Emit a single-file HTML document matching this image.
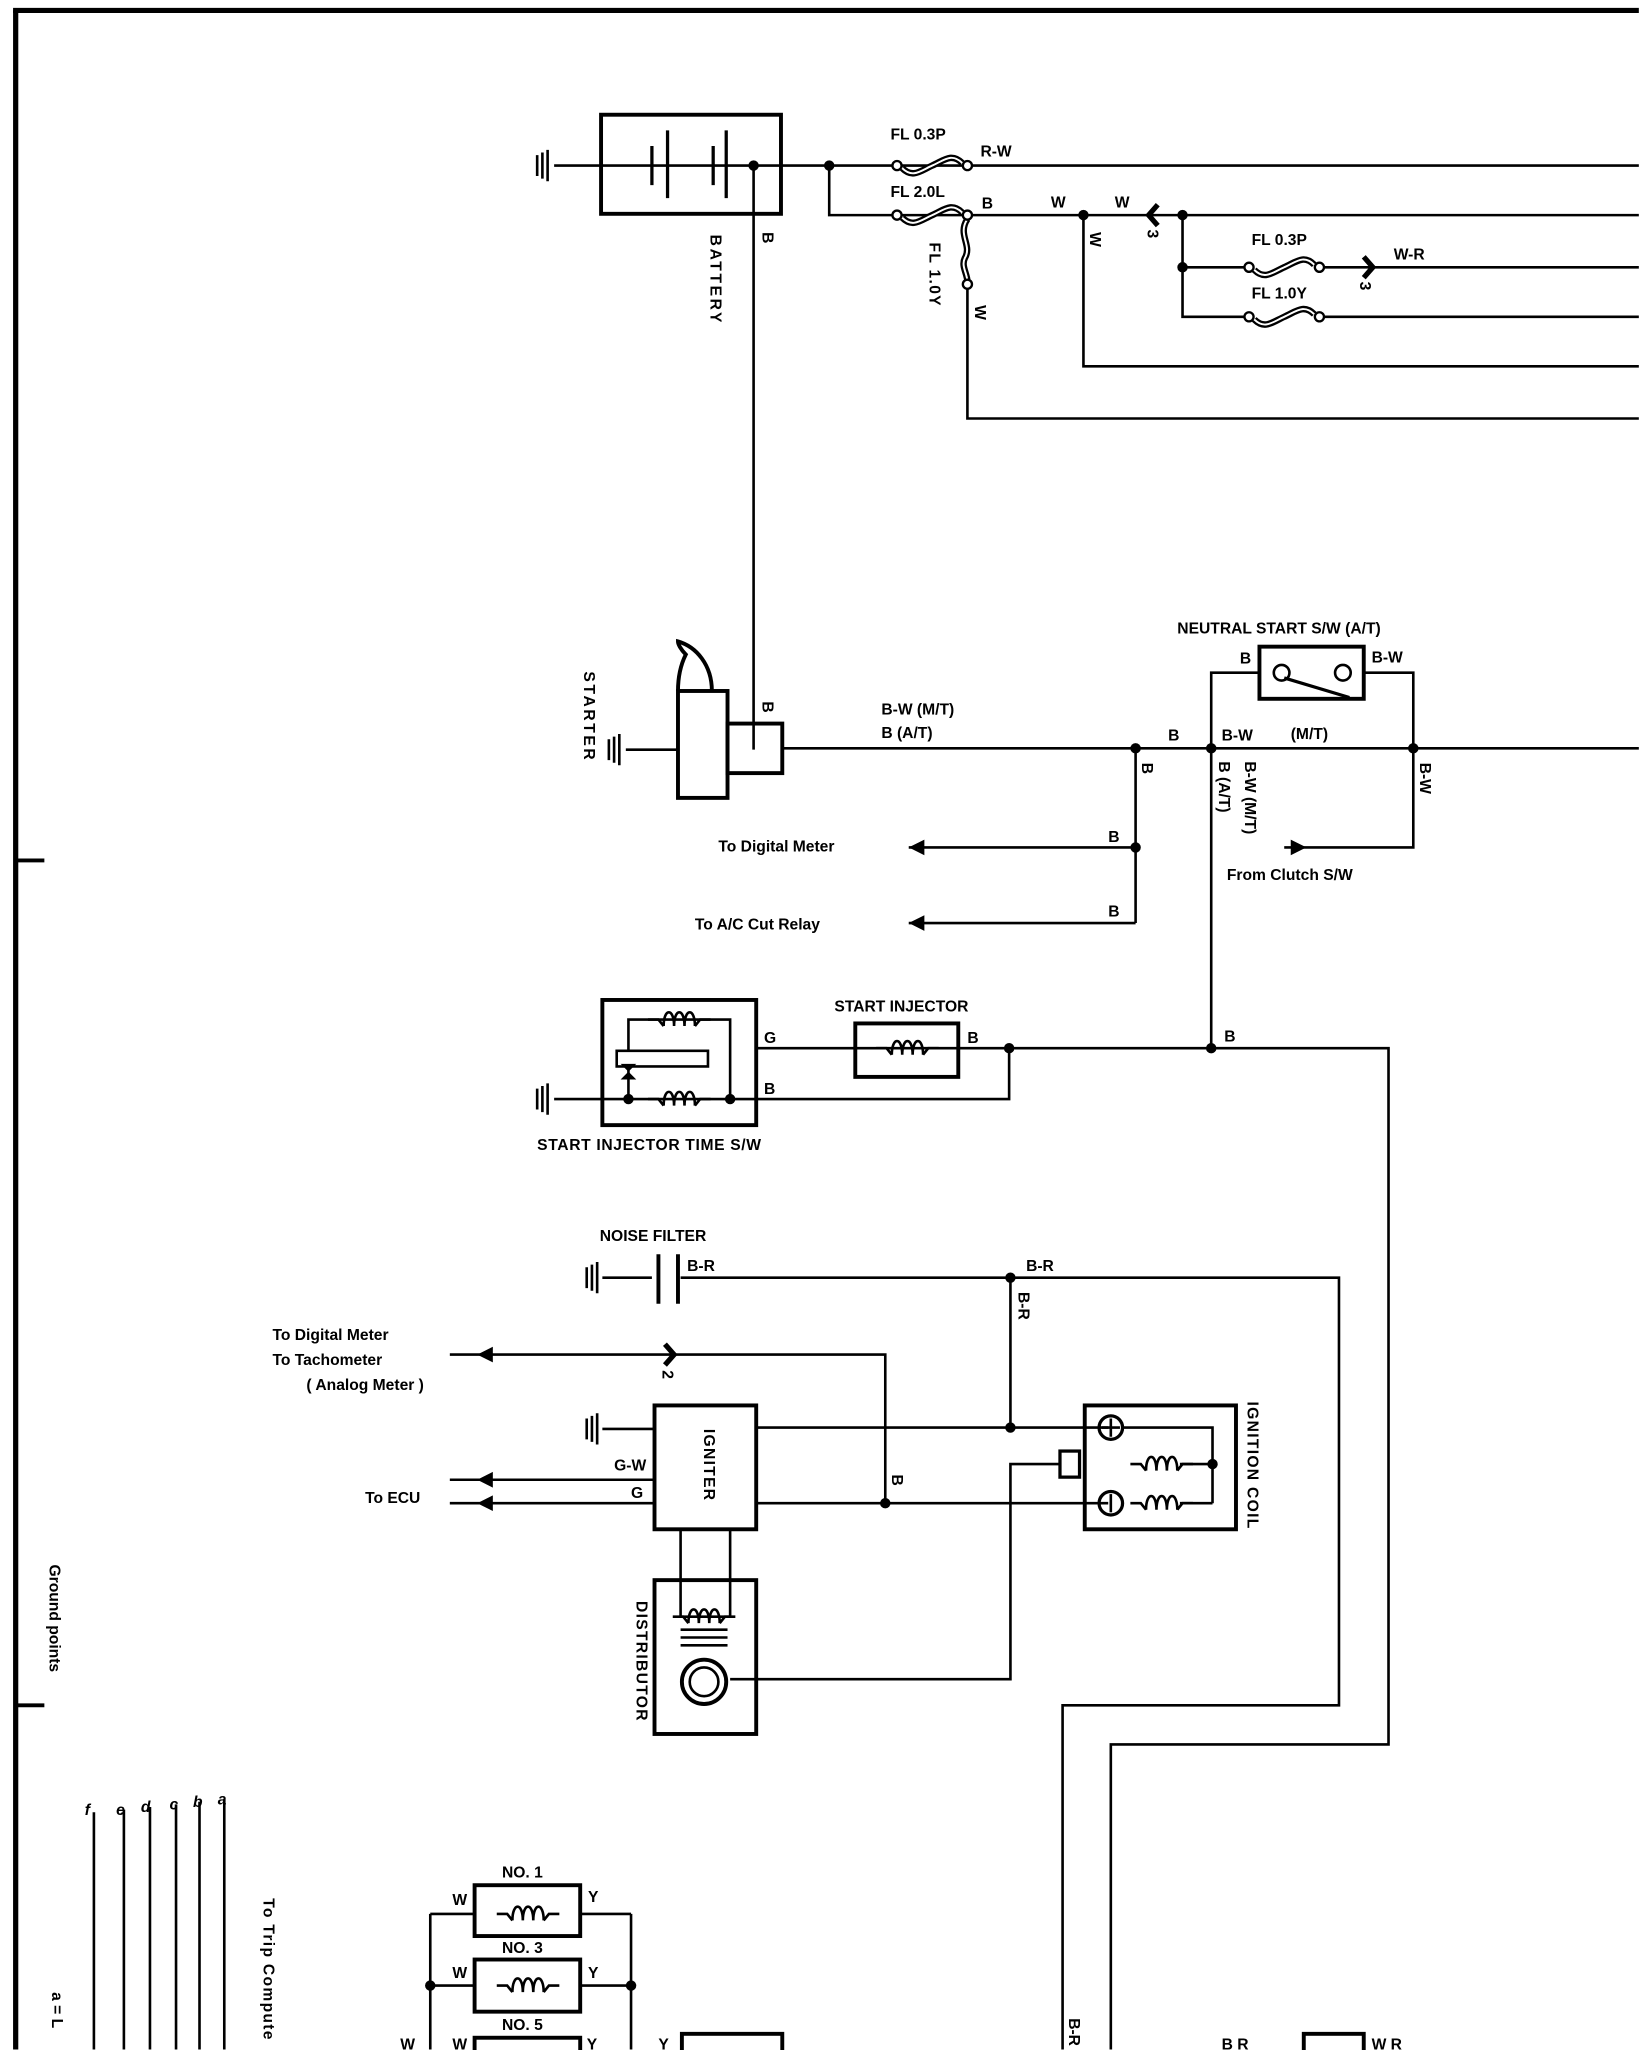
<!DOCTYPE html>
<html><head><meta charset="utf-8"><style>
html,body{margin:0;padding:0;background:#fff;}
svg{display:block;}
text{font-family:"Liberation Sans",sans-serif;font-weight:bold;font-size:12px;fill:#000;}
</style></head><body>
<svg width="1648" height="2050" viewBox="0 0 1264 1572.4" xmlns="http://www.w3.org/2000/svg">
<defs>
<g id="coil"><path d="M-24,0 h8 l4,5 M12,5 l4,-5 h8" fill="none" stroke="#000" stroke-width="2"/><path d="M-12,5 c0,-14 8,-14 8,0 c0,-14 8,-14 8,0 c0,-14 8,-14 8,0" fill="none" stroke="#000" stroke-width="2"/></g>
<g id="fuse"><circle cx="0" cy="0" r="3.5" fill="#fff" stroke="#000" stroke-width="1.8"/><circle cx="54" cy="0" r="3.5" fill="#fff" stroke="#000" stroke-width="1.8"/><path d="M4,2 c8,8 14,2 23,-2 c9,-4 15,-10 23,-2" fill="none" stroke="#000" stroke-width="5"/><path d="M4,2 c8,8 14,2 23,-2 c9,-4 15,-10 23,-2" fill="none" stroke="#fff" stroke-width="1.5"/></g>
<g id="gnd"><path d="M0,-8 v16 M4,-10 v20 M8,-12 v24" stroke="#000" stroke-width="2"/></g>
<g id="arl"><path d="M0,0 l12,-6 v12 z" fill="#000"/></g>
</defs>
<g stroke="#000" fill="none" stroke-width="2">
<!-- frame -->
<path d="M12,8 V1572" stroke-width="4"/><path d="M10,8 H1257" stroke-width="4"/>
<path d="M12,660 H34 M12,1308 H34" stroke-width="3"/>
<!-- battery -->
<rect x="461" y="88" width="138" height="76" stroke-width="3"/>
<path d="M425,127 H1257"/>
<path d="M500,112 v30 M512,100 v52 M547,112 v30 M557,100 v52" stroke-width="2.5"/>
<path d="M578,127 V575"/>
<path d="M636,127 V165 H1257"/>
<path d="M831,165 V281 H1257"/>
<path d="M742,218 V321 H1257"/>
<path d="M907,165 V243 H958 M907,205 H958 M1012,205 H1257 M1012,243 H1257"/>
<path d="M742,168 c-8,12 4,20 -2,30 c-3,6 2,12 2,18" stroke-width="5"/>
<path d="M742,168 c-8,12 4,20 -2,30 c-3,6 2,12 2,18" stroke="#fff" stroke-width="1.5"/>
<circle cx="742" cy="218" r="3.5" fill="#fff" stroke-width="1.8"/>
<path d="M888,157 l-7,8 l7,8" stroke-width="4"/>
<path d="M1046,197 l7,8 l-7,8" stroke-width="4"/>
<!-- starter -->
<rect x="520" y="530" width="38" height="82" stroke-width="3"/>
<rect x="558" y="555" width="42" height="38" stroke-width="3"/>
<path d="M520,530 c0,-10 2,-20 6,-28 c-4,-4 -6,-8 -6,-10 c14,4 26,18 26,38" stroke-width="3"/>
<path d="M480,575 H520"/>
<path d="M600,574 H1257"/>
<path d="M929,574 V516 H966 M1046,516 H1084 V650 H985"/>
<rect x="966" y="496" width="80" height="40" stroke-width="3"/>
<circle cx="983" cy="516" r="6" fill="#fff"/><circle cx="1030" cy="516" r="6" fill="#fff"/>
<path d="M985,520 L1035,535" stroke-width="2.5"/>
<path d="M871,574 V708 M697,650 H871 M697,708 H871"/>
<path d="M929,574 V804"/>
<!-- start injector -->
<path d="M580,804 H1065 V1338 H852 V1572"/>
<rect x="656" y="785" width="79" height="41" stroke-width="3"/>
<path d="M774,804 V843 H425"/>
<rect x="462" y="767" width="118" height="96" stroke-width="3"/>
<path d="M482,806 V782 H560 V843"/>
<rect x="473" y="806" width="70" height="12" fill="#fff"/>
<path d="M482,818 V843"/>
<!-- noise filter -->
<path d="M462,980 H500 M522,980 H1027 V1308 H815 V1572"/>
<path d="M505,962 v38 M520,962 v38" stroke-width="3"/>
<path d="M775,980 V1095"/>
<path d="M345,1039 H679 V1153"/>
<path d="M510,1031 l7,8 l-7,8" stroke-width="4"/>
<rect x="502" y="1078" width="78" height="95" stroke-width="3"/>
<path d="M462,1096 H502 M580,1095 H850 M580,1153 H850 M345,1135 H502 M345,1153 H502"/>
<rect x="832" y="1078" width="116" height="95" stroke-width="3"/>
<path d="M862,1095 H930 V1153 M930,1123 H905"/>
<rect x="813" y="1113" width="15" height="20" stroke-width="2.5"/>
<path d="M813,1123 H775 V1288 H560"/>
<circle cx="852" cy="1095" r="9" stroke-width="2.5"/><path d="M852,1088 v14 M845,1095 h14"/>
<circle cx="852" cy="1153" r="9" stroke-width="2.5"/><path d="M852,1146 v14"/>
<path d="M930,1153 H905"/>
<rect x="502" y="1212" width="78" height="118" stroke-width="3"/>
<path d="M522,1173 V1240 H560 V1173"/>
<path d="M522,1250 h36 M522,1256 h36 M522,1262 h36"/>
<circle cx="540" cy="1290" r="17" stroke-width="3"/><circle cx="540" cy="1290" r="11"/>
<!-- ground points -->
<path d="M172,1380 V1572 M153,1382 V1572 M135,1384 V1572 M115,1386 V1572 M95,1388 V1572 M72,1390 V1572"/>
<!-- injectors -->
<path d="M330,1468 V1572 M484,1468 V1572 M330,1468 H364 M445,1468 H484 M330,1523 H364 M445,1523 H484"/>
<rect x="364" y="1446" width="81" height="39" stroke-width="3"/>
<rect x="364" y="1503" width="81" height="40" stroke-width="3"/>
<rect x="364" y="1563" width="81" height="20" stroke-width="3"/>
<rect x="523" y="1560" width="77" height="20" stroke-width="3"/>
<rect x="1000" y="1560" width="46" height="20" stroke-width="3"/>
</g>
<!-- dots -->
<g fill="#000">
<circle cx="578" cy="127" r="4"/><circle cx="636" cy="127" r="4"/>
<circle cx="831" cy="165" r="4"/><circle cx="907" cy="165" r="4"/><circle cx="907" cy="205" r="4"/>
<circle cx="871" cy="574" r="4"/><circle cx="929" cy="574" r="4"/><circle cx="1084" cy="574" r="4"/>
<circle cx="871" cy="650" r="4"/><circle cx="929" cy="804" r="4"/><circle cx="774" cy="804" r="4"/>
<circle cx="482" cy="843" r="4"/><circle cx="560" cy="843" r="4"/>
<path d="M476,816 h12 l-12,12 h12 z M476,828 h12 l-6,-6 z"/>
<circle cx="775" cy="980" r="4"/><circle cx="775" cy="1095" r="4"/><circle cx="679" cy="1153" r="4"/><circle cx="930" cy="1123" r="4"/>
<circle cx="330" cy="1523" r="4"/><circle cx="484" cy="1523" r="4"/>
<use href="#arl" x="697" y="650"/><use href="#arl" x="697" y="708"/>
<use href="#arl" x="366" y="1039"/><use href="#arl" x="366" y="1135"/><use href="#arl" x="366" y="1153"/>
<path d="M1002,650 l-12,-6 v12 z"/>
</g>
<use href="#gnd" x="412" y="127"/><use href="#gnd" x="467" y="575"/><use href="#gnd" x="412" y="843"/>
<use href="#gnd" x="450" y="980"/><use href="#gnd" x="450" y="1096"/>
<use href="#fuse" x="688" y="127"/><use href="#fuse" x="688" y="165"/>
<use href="#fuse" x="958" y="205"/><use href="#fuse" x="958" y="243"/>
<use href="#coil" x="696" y="804"/><use href="#coil" x="521" y="782"/><use href="#coil" x="521" y="843"/>
<use href="#coil" x="891" y="1123"/><use href="#coil" x="891" y="1153"/><use href="#coil" x="540" y="1240"/>
<use href="#coil" x="405" y="1468"/><use href="#coil" x="405" y="1523"/>
<!-- labels -->
<text x="683" y="107">FL 0.3P</text><text x="752" y="120">R-W</text>
<text x="683" y="151">FL 2.0L</text><text x="753" y="160">B</text><text x="806" y="159">W</text><text x="855" y="159">W</text>
<text x="960" y="188">FL 0.3P</text><text x="1069" y="199">W-R</text><text x="960" y="229">FL 1.0Y</text>
<text transform="translate(545,180) rotate(90)" letter-spacing="2">BATTERY</text>
<text transform="translate(585,178) rotate(90)">B</text>
<text transform="translate(713,186) rotate(90)" letter-spacing="1">FL 1.0Y</text>
<text transform="translate(748,234) rotate(90)">W</text>
<text transform="translate(836,178) rotate(90)">W</text>
<text transform="translate(880,176) rotate(90)">3</text>
<text transform="translate(1043,216) rotate(90)">3</text>
<text x="903" y="486" font-size="12">NEUTRAL START S/W (A/T)</text>
<text x="951" y="509">B</text><text x="1052" y="508">B-W</text>
<text transform="translate(448,515) rotate(90)" letter-spacing="2">STARTER</text>
<text transform="translate(585,538) rotate(90)">B</text>
<text x="676" y="548">B-W (M/T)</text><text x="676" y="566">B (A/T)</text>
<text x="896" y="568">B</text><text x="937" y="568">B-W</text><text x="990" y="567">(M/T)</text>
<text transform="translate(876,585) rotate(90)">B</text>
<text transform="translate(955,584) rotate(90)">B-W (M/T)</text>
<text transform="translate(935,584) rotate(90)">B (A/T)</text>
<text transform="translate(1089,585) rotate(90)">B-W</text>
<text x="850" y="646">B</text><text x="850" y="703">B</text>
<text x="551" y="653" font-size="11">To Digital Meter</text><text x="533" y="713" font-size="11">To A/C Cut Relay</text>
<text x="941" y="675">From Clutch S/W</text>
<text x="640" y="776">START INJECTOR</text><text x="742" y="800">B</text>
<text x="586" y="800">G</text><text x="586" y="839">B</text><text x="939" y="799">B</text>
<text x="412" y="882" letter-spacing="0.5">START INJECTOR TIME S/W</text>
<text x="460" y="952">NOISE FILTER</text><text x="527" y="975">B-R</text><text x="787" y="975">B-R</text>
<text transform="translate(781,991) rotate(90)">B-R</text>
<text x="209" y="1028" font-size="11">To Digital Meter</text><text x="209" y="1047" font-size="11">To Tachometer</text><text x="235" y="1066" font-size="11">( Analog Meter )</text>
<text transform="translate(508,1051) rotate(90)">2</text>
<text transform="translate(540,1096) rotate(90)" letter-spacing="1">IGNITER</text>
<text transform="translate(684,1131) rotate(90)">B</text>
<text x="471" y="1128">G-W</text><text x="484" y="1149">G</text><text x="280" y="1153">To ECU</text>
<text transform="translate(957,1075) rotate(90)" letter-spacing="1">IGNITION COIL</text>
<text transform="translate(488,1228) rotate(90)" letter-spacing="1">DISTRIBUTOR</text>
<text transform="translate(38,1200) rotate(90)" font-size="11">Ground points</text>
<text transform="translate(40,1528) rotate(90)" font-size="12">a = L</text>
<text transform="translate(202,1456) rotate(90)" font-size="12" letter-spacing="1">To Trip Compute</text>
<g font-style="italic"><text x="167" y="1384" font-size="14">a</text><text x="148" y="1386" font-size="14">b</text><text x="130" y="1388" font-size="14">c</text><text x="108" y="1390" font-size="14">d</text><text x="89" y="1392" font-size="14">e</text><text x="65" y="1392" font-size="14">f</text></g>
<text x="385" y="1440">NO. 1</text><text x="385" y="1498">NO. 3</text><text x="385" y="1557">NO. 5</text>
<text x="347" y="1461">W</text><text x="451" y="1459">Y</text><text x="347" y="1517">W</text><text x="451" y="1517">Y</text>
<text x="307" y="1572">W</text><text x="347" y="1572">W</text><text x="450" y="1572">Y</text><text x="505" y="1572">Y</text>
<text transform="translate(820,1548) rotate(90)">B-R</text>
<text x="937" y="1572">B R</text><text x="1052" y="1572">W R</text>
</svg>
</body></html>
